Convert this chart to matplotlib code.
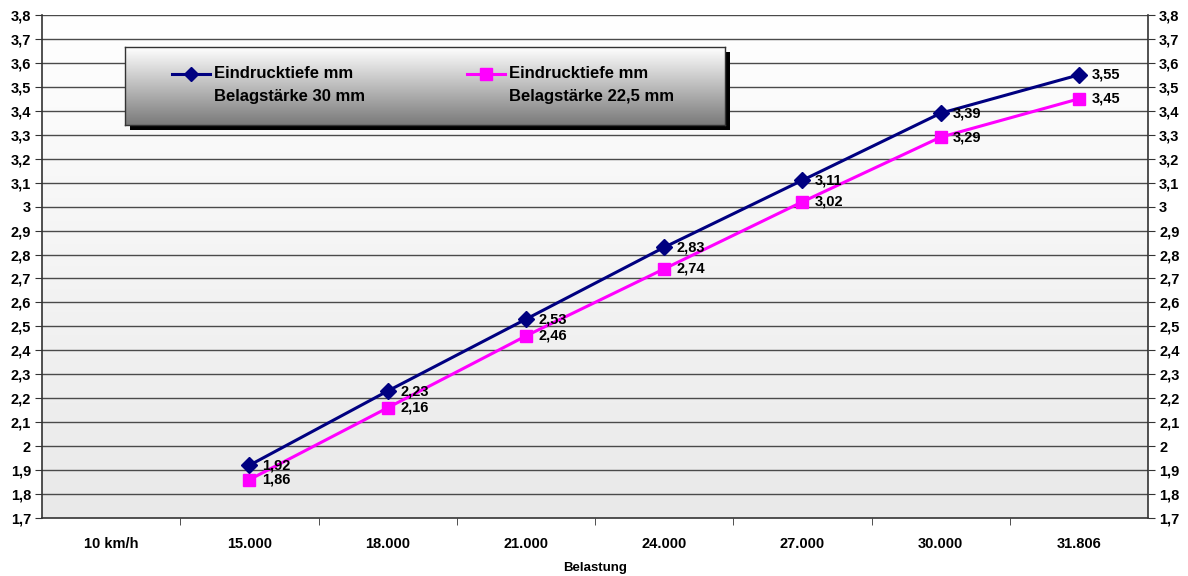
import numpy as np
import matplotlib
matplotlib.use("Agg")
import matplotlib.pyplot as plt
from matplotlib.patches import Rectangle
from matplotlib.lines import Line2D

categories = ["10 km/h", "15.000", "18.000", "21.000", "24.000", "27.000", "30.000", "31.806"]
series_30 = [np.nan, 1.92, 2.23, 2.53, 2.83, 3.11, 3.39, 3.55]
series_225 = [np.nan, 1.86, 2.16, 2.46, 2.74, 3.02, 3.29, 3.45]
label_30 = "Eindrucktiefe mm\nBelagstärke 30 mm"
label_225 = "Eindrucktiefe mm\nBelagstärke 22,5 mm"
yticks = [round(1.7 + 0.1 * i, 1) for i in range(22)]
xlabel = "Belastung"

plt.rcParams['font.family'] = ['Liberation Sans', 'DejaVu Sans']
plt.rcParams['font.weight'] = 'bold'

W, H = 1188, 576
fig = plt.figure(figsize=(W / 100, H / 100), dpi=100)
L, R, T, B = 42, 1148, 15, 518
ax = fig.add_axes([L / W, 1 - B / H, (R - L) / W, (B - T) / H])

navy = "#000080"
magenta = "#ff00ff"
FS = 10.5

# background gradient
grad = np.linspace(0, 1, 256).reshape(-1, 1)
cmap = matplotlib.colors.LinearSegmentedColormap.from_list("bg", ["#ffffff", "#e9e9e9"])
ax.imshow(grad, aspect="auto", cmap=cmap, extent=[0, 1, 0, 1], transform=ax.transAxes,
          zorder=0, origin="upper")

x = np.arange(len(categories))
ax.set_xlim(-0.5, len(categories) - 0.5)
ax.set_ylim(1.7, 3.8)

for yv in yticks[1:]:
    ax.axhline(yv, color="#4a4a4a", lw=1.0, zorder=1)

ax.plot(x, series_30, color=navy, lw=2.2, marker="D", ms=8, zorder=3)
ax.plot(x, series_225, color=magenta, lw=2.2, marker="s", ms=9, zorder=3)

def fmt(v):
    return f"{v:.2f}".replace(".", ",")

for xi, v in zip(x, series_30):
    if not np.isnan(v):
        ax.annotate(fmt(v), (xi, v), xytext=(9, 0), textcoords="offset points",
                    va="center", ha="left", fontsize=FS, fontweight="bold", zorder=4)
for xi, v in zip(x, series_225):
    if not np.isnan(v):
        ax.annotate(fmt(v), (xi, v), xytext=(9, 0), textcoords="offset points",
                    va="center", ha="left", fontsize=FS, fontweight="bold", zorder=4)

def ylab(v):
    s = f"{v:.1f}"
    if s.endswith(".0"):
        s = s[:-2]
    return s.replace(".", ",")

ax.set_yticks(yticks)
ax.set_yticklabels([ylab(v) for v in yticks], fontsize=FS, fontweight="bold")
ax.set_xticks(x)
ax.set_xticklabels(categories, fontsize=FS, fontweight="bold")
ax.tick_params(axis="x", which="major", length=0, pad=14)
ax.set_xticks(np.arange(len(categories) - 1) + 0.5, minor=True)
ax.tick_params(axis="x", which="minor", length=5, direction="out", color="#333333")
ax.tick_params(axis="y", length=5, direction="out", color="#333333", pad=3)
fig.text(595 / W, 1 - 568 / H, xlabel, fontsize=9.5, fontweight="bold", ha="center", va="center")

ax.spines["top"].set_visible(False)
for s in ["left", "right", "bottom"]:
    ax.spines[s].set_color("#333333")
    ax.spines[s].set_linewidth(1.2)

ax2 = ax.twinx()
ax2.set_ylim(1.7, 3.8)
ax2.set_yticks(yticks)
ax2.set_yticklabels([ylab(v) for v in yticks], fontsize=FS, fontweight="bold")
ax2.tick_params(axis="y", length=5, direction="out", color="#333333", pad=3)
for s in ["top", "left", "bottom", "right"]:
    ax2.spines[s].set_visible(False)

# legend box with shadow
lx0, ly0, lx1, ly1 = 125, 47, 725, 125
sh = 5
shadow = Rectangle(((lx0 + sh) / W, 1 - (ly1 + sh) / H), (lx1 - lx0) / W, (ly1 - ly0) / H,
                   transform=fig.transFigure, facecolor="black", edgecolor="none", zorder=5)
fig.patches.append(shadow)
lax = fig.add_axes([lx0 / W, 1 - ly1 / H, (lx1 - lx0) / W, (ly1 - ly0) / H], zorder=6)
lcmap = matplotlib.colors.LinearSegmentedColormap.from_list("lg", ["#ffffff", "#7a7a7a"])
lax.imshow(grad, aspect="auto", cmap=lcmap, extent=[0, 1, 0, 1], origin="upper")
lax.set_xlim(0, 1)
lax.set_ylim(0, 1)
lax.set_xticks([])
lax.set_yticks([])
for s in lax.spines.values():
    s.set_color("#333333")
    s.set_linewidth(1)

def px2lx(px):
    return (px - lx0) / (lx1 - lx0)

def py2ly(py):
    return 1 - (py - ly0) / (ly1 - ly0)

LFS = 12
ly = py2ly(74)
lax.add_line(Line2D([px2lx(172), px2lx(210)], [ly, ly], color=navy, lw=2.2))
lax.plot([px2lx(191)], [ly], marker="D", color=navy, ms=7)
lax.text(px2lx(214), py2ly(74), "Eindrucktiefe mm", fontsize=LFS, fontweight="bold", va="center", ha="left")
lax.text(px2lx(214), py2ly(97), "Belagstärke 30 mm", fontsize=LFS, fontweight="bold", va="center", ha="left")
lax.add_line(Line2D([px2lx(467), px2lx(505)], [ly, ly], color=magenta, lw=2.2))
lax.plot([px2lx(486)], [ly], marker="s", color=magenta, ms=8)
lax.text(px2lx(509), py2ly(74), "Eindrucktiefe mm", fontsize=LFS, fontweight="bold", va="center", ha="left")
lax.text(px2lx(509), py2ly(97), "Belagstärke 22,5 mm", fontsize=LFS, fontweight="bold", va="center", ha="left")

fig.savefig("out.png", dpi=100)
